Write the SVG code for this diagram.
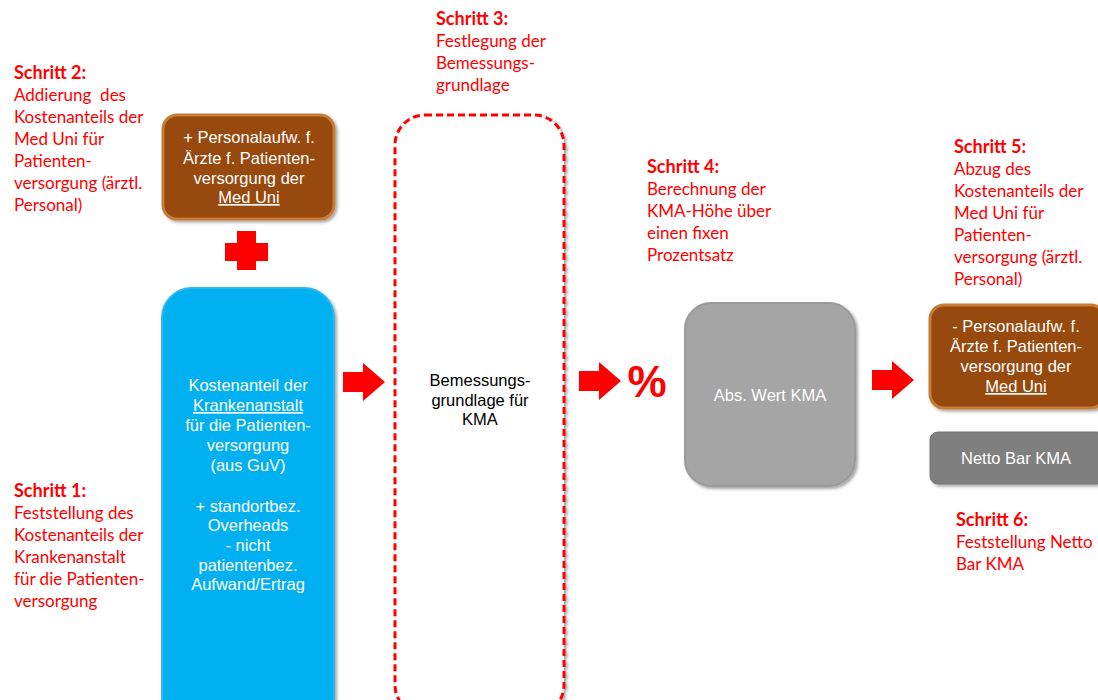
<svg xmlns="http://www.w3.org/2000/svg" width="1098" height="700" viewBox="0 0 1098 700">
<defs>
<filter id="sh" x="-10%" y="-10%" width="125%" height="125%">
<feDropShadow dx="2" dy="2" stdDeviation="1.5" flood-color="#000" flood-opacity="0.35"/>
</filter>
</defs>
<style>
.step{font-family:Lato,"Open Sans",sans-serif;font-size:17px;fill:#ff0000}
.stepb{font-weight:bold;font-size:18px}
.box{font-family:"Liberation Sans",Arial,sans-serif;font-size:16.5px;fill:#fff;text-anchor:middle}
.blk{fill:#000}
.brown{fill:#984807;stroke:#c77b38;stroke-width:3}
.arrow{fill:#ff0000}
</style>
<rect width="1098" height="700" fill="#fff"/>

<g id="labels">
<text class="step" x="14" y="79"><tspan class="stepb">Schritt 2:</tspan><tspan x="14" dy="22">Addierung&#160; des</tspan><tspan x="14" dy="22">Kostenanteils der</tspan><tspan x="14" dy="22">Med Uni für</tspan><tspan x="14" dy="22">Patienten-</tspan><tspan x="14" dy="22">versorgung (ärztl.</tspan><tspan x="14" dy="22">Personal)</tspan></text>
<text class="step" x="436" y="25"><tspan class="stepb">Schritt 3:</tspan><tspan x="436" dy="22">Festlegung der</tspan><tspan x="436" dy="22">Bemessungs-</tspan><tspan x="436" dy="22">grundlage</tspan></text>
<text class="step" x="647" y="173"><tspan class="stepb">Schritt 4:</tspan><tspan x="647" dy="22">Berechnung der</tspan><tspan x="647" dy="22">KMA-Höhe über</tspan><tspan x="647" dy="22">einen fixen</tspan><tspan x="647" dy="22">Prozentsatz</tspan></text>
<text class="step" x="954" y="153"><tspan class="stepb">Schritt 5:</tspan><tspan x="954" dy="22">Abzug des</tspan><tspan x="954" dy="22">Kostenanteils der</tspan><tspan x="954" dy="22">Med Uni für</tspan><tspan x="954" dy="22">Patienten-</tspan><tspan x="954" dy="22">versorgung (ärztl.</tspan><tspan x="954" dy="22">Personal)</tspan></text>
<text class="step" x="956" y="526"><tspan class="stepb">Schritt 6:</tspan><tspan x="956" dy="22">Feststellung Netto</tspan><tspan x="956" dy="22">Bar KMA</tspan></text>
<text class="step" x="14" y="497"><tspan class="stepb">Schritt 1:</tspan><tspan x="14" dy="22">Feststellung des</tspan><tspan x="14" dy="22">Kostenanteils der</tspan><tspan x="14" dy="22">Krankenanstalt</tspan><tspan x="14" dy="22">für die Patienten-</tspan><tspan x="14" dy="22">versorgung</tspan></text>
</g>

<g id="medUni1">
<rect class="brown" x="163" y="115" width="171" height="104" rx="14" filter="url(#sh)"/>
<text class="box" x="249" y="143">+ Personalaufw. f.</text>
<text class="box" x="249" y="164">Ärzte f. Patienten-</text>
<text class="box" x="249" y="184">versorgung der</text>
<text class="box" x="249" y="203" text-decoration="underline">Med Uni</text>
</g>

<g id="plus">
<rect class="arrow" x="225" y="243" width="43" height="18"/>
<rect class="arrow" x="237" y="231" width="19" height="39"/>
</g>

<g id="krankenanstalt">
<rect x="162" y="288" width="172" height="440" rx="30" fill="#00b0f0" stroke="#2fb9ec" stroke-width="2" filter="url(#sh)"/>
<text class="box" x="248" y="391">Kostenanteil der</text>
<text class="box" x="248" y="411" text-decoration="underline">Krankenanstalt</text>
<text class="box" x="248" y="431">für die Patienten-</text>
<text class="box" x="248" y="451">versorgung</text>
<text class="box" x="248" y="471">(aus GuV)</text>
<text class="box" x="248" y="512">+ standortbez.</text>
<text class="box" x="248" y="531">Overheads</text>
<text class="box" x="248" y="551">- nicht</text>
<text class="box" x="248" y="571">patientenbez.</text>
<text class="box" x="248" y="590">Aufwand/Ertrag</text>
</g>

<g id="bemessung">
<rect x="395" y="115" width="169" height="600" rx="30" fill="#fff" stroke="#ff0000" stroke-width="3" stroke-dasharray="7,4" filter="url(#sh)"/>
<text class="box blk" x="480" y="386">Bemessungs-</text>
<text class="box blk" x="480" y="406">grundlage für</text>
<text class="box blk" x="480" y="425">KMA</text>
</g>

<g id="absWert">
<rect x="685" y="303" width="170" height="183" rx="26" fill="#a5a5a5" stroke="#9a9a9a" stroke-width="2" filter="url(#sh)"/>
<text class="box" x="770" y="401">Abs. Wert KMA</text>
</g>

<g id="medUni2">
<rect class="brown" x="930" y="305" width="175" height="103" rx="14" filter="url(#sh)"/>
<text class="box" x="1016" y="332">- Personalaufw. f.</text>
<text class="box" x="1016" y="352">Ärzte f. Patienten-</text>
<text class="box" x="1016" y="372">versorgung der</text>
<text class="box" x="1016" y="392" text-decoration="underline">Med Uni</text>
</g>

<g id="netto">
<rect x="930" y="432" width="175" height="52" rx="8" fill="#7f7f7f" stroke="#767676" stroke-width="1" filter="url(#sh)"/>
<text class="box" x="1016" y="464">Netto Bar KMA</text>
</g>

<g id="connectors">
<polygon class="arrow" points="343,372 363,372 363,363 385,382 363,401 363,392 343,392"/>
<polygon class="arrow" points="579,371 599,371 599,362 621,381 599,400 599,391 579,391"/>
<polygon class="arrow" points="872,370 892,370 892,361 914,380 892,399 892,390 872,390"/>
<text x="647" y="397" font-family="Liberation Sans,Arial,sans-serif" font-size="44" font-weight="bold" fill="#ff0000" text-anchor="middle">%</text>
</g>
</svg>
